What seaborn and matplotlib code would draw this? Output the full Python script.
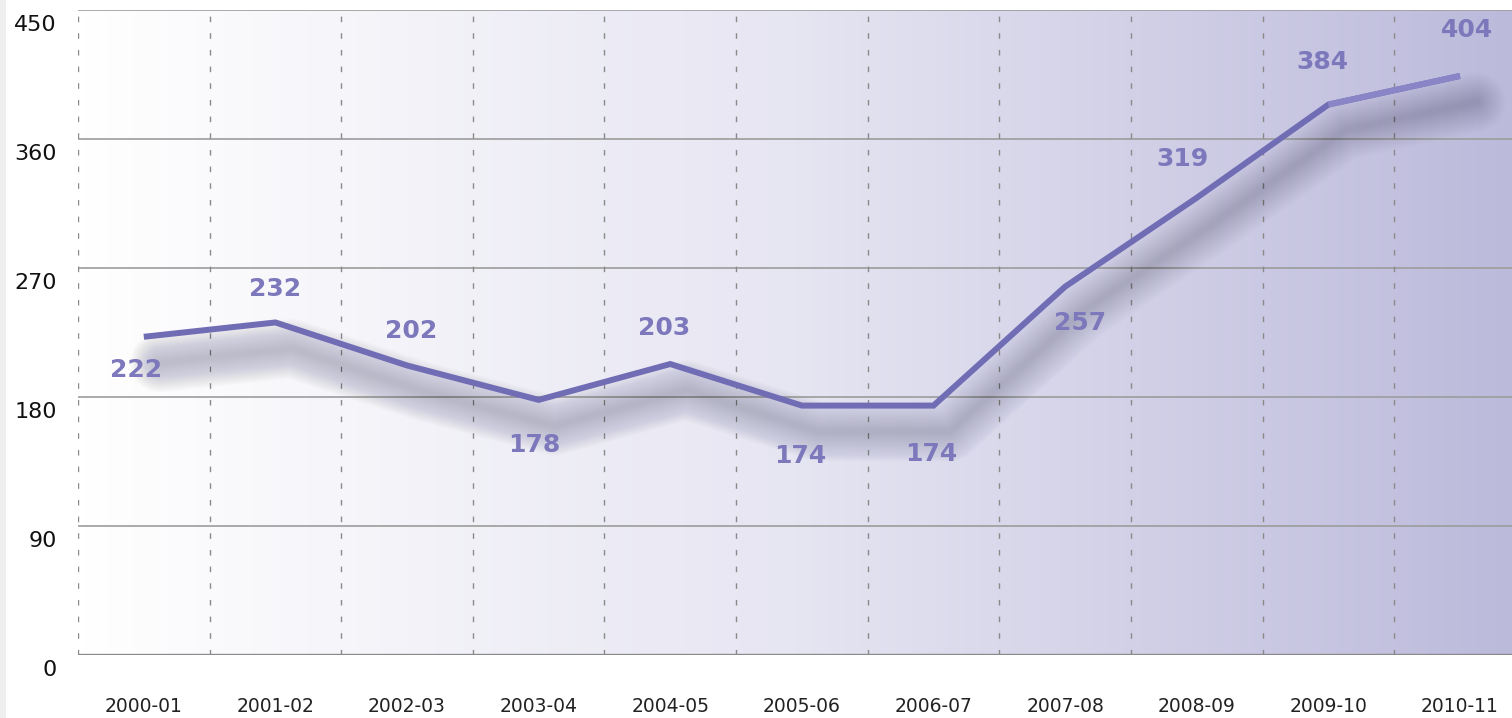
import numpy as np
import pandas as pd
import matplotlib
matplotlib.use("Agg")
import matplotlib.pyplot as plt
import matplotlib.transforms as mtransforms
from matplotlib.patches import Rectangle
from matplotlib.colors import LinearSegmentedColormap
import seaborn as sns

# ---- data ----
years = ["2000-01", "2001-02", "2002-03", "2003-04", "2004-05", "2005-06",
         "2006-07", "2007-08", "2008-09", "2009-10", "2010-11"]
values = [222, 232, 202, 178, 203, 174, 174, 257, 319, 384, 404]
y_ticks = [0, 90, 180, 270, 360, 450]
# label offsets in pixels (dx, dy) relative to each point
label_offsets = [(-8, -33), (0, 33), (4, 34), (-4, -45), (-6, 36), (-2, -50),
                 (-2, -48), (15, -36), (-14, 39), (-6, 43), (7, 46)]

sns.set_theme(style="white")
plt.rcParams['font.family'] = ['DejaVu Sans']

DPI = 100
fig = plt.figure(figsize=(15.12, 7.18), dpi=DPI)
fig.patch.set_facecolor("white")
ax = fig.add_axes([78 / 1512, 63 / 718, 1 - 78 / 1512, (655 - 10) / 718])

df = pd.DataFrame({"pos": np.arange(len(years)), "year": years, "value": values})

# background gradient
cmap = LinearSegmentedColormap.from_list("bg", ["#ffffff", "#e6e5f2", "#bcbadb"])
grad = np.linspace(0, 1, 256).reshape(1, -1)
ax.imshow(grad, cmap=cmap, extent=[0, 1, 0, 1], transform=ax.transAxes,
          aspect="auto", zorder=0)

# left light strip of the figure
fig.patches.append(Rectangle((0, 0), 6 / 1512, 1, transform=fig.transFigure,
                             facecolor="#efefef", edgecolor="none"))

# grid lines
for t in y_ticks[1:]:
    ax.axhline(t, color="#9c9c9c", lw=1.2, zorder=1)
ax.axhline(0, color="#8a8a8a", lw=2.4, zorder=2)
for k in range(len(years)):
    ax.axvline(k - 0.5, color="#8a8a8a", lw=1.0, linestyle=(0, (4, 8)), zorder=1)

# soft shadow (many translucent layers, offset down-right)
px = 72.0 / DPI
off = mtransforms.ScaledTranslation(16 / DPI, -26 / DPI, fig.dpi_scale_trans)
for lw in np.linspace(4, 60, 40):
    ax.plot(df["pos"], df["value"], color="#50506a", lw=lw * px, alpha=0.006,
            solid_capstyle="round", solid_joinstyle="round",
            transform=ax.transData + off, zorder=3, antialiased=True)

# main line
sns.lineplot(data=df, x="pos", y="value", ax=ax, color="#716db5", lw=6 * px,
             zorder=5, sort=False)
ax.plot(df["pos"].iloc[-2:], df["value"].iloc[-2:], color="#8985c6",
        lw=6 * px, zorder=6)
for line in ax.lines[-2:]:
    line.set_solid_capstyle("butt")
    line.set_solid_joinstyle("miter")

# value labels
for i, (v, (dx, dy)) in enumerate(zip(values, label_offsets)):
    ax.annotate(str(v), (i, v), xytext=(dx * px, dy * px), textcoords="offset points",
                ha="center", va="center", fontsize=18, fontweight="bold",
                color="#7c78bb", zorder=7)

ax.set_xlim(-0.5, (1512 - 144) / 131.6)
ax.set_ylim(0, 450)
ax.set_xticks(df["pos"])
ax.set_xticklabels(years, fontsize=13.5, color="#222222")
ax.set_yticks(y_ticks)
ax.set_yticklabels([])
for t in y_ticks:
    ax.annotate(str(t), xy=(0, t), xycoords=("axes fraction", "data"),
                xytext=(-21 * px, -5 * px), textcoords="offset points",
                ha="right", va="top", fontsize=16, color="#111111",
                annotation_clip=False)
ax.tick_params(axis="x", length=0, pad=30)
ax.tick_params(axis="y", length=0, pad=15)
ax.set_xlabel("")
ax.set_ylabel("")
for s in ax.spines.values():
    s.set_visible(False)
ax.grid(False)

fig.savefig("out.png", dpi=DPI)
